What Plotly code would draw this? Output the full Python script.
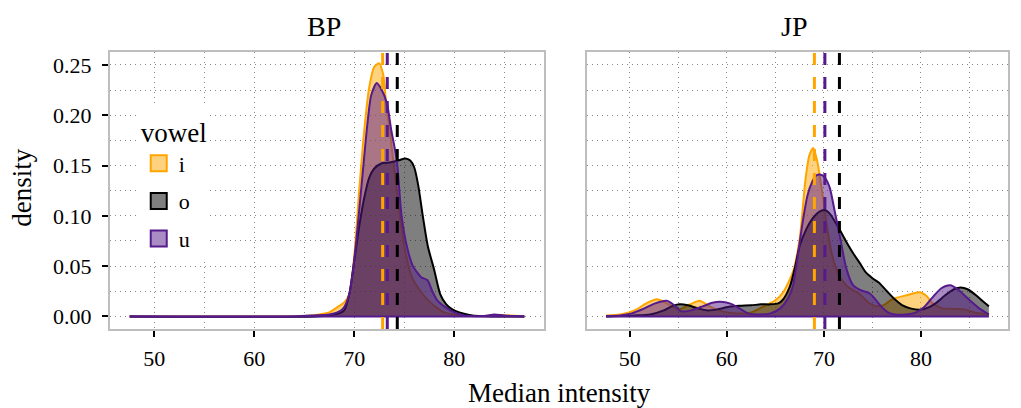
import plotly.graph_objects as go
from plotly.subplots import make_subplots

# ---------------- data ----------------
facets = ["BP", "JP"]
vowels = ["i", "o", "u"]
line_colors = {"i": "#FFA500", "o": "#000000", "u": "#551A8B"}
fill_colors = {"i": "rgba(255,165,0,0.5)", "o": "rgba(0,0,0,0.5)", "u": "rgba(85,26,139,0.5)"}

# BP densities
bp_i_x = [47.55, 62.0, 65.0, 66.5, 67.5, 68.5, 69.0, 69.5, 70.0, 70.5, 71.0, 71.5, 72.0, 72.5, 72.9,
          73.2, 73.6, 73.9, 74.5, 75.05, 75.8, 76.7, 77.3, 78.0, 79.0, 80.0, 82.0, 84.0, 85.5, 87.0]
bp_i_y = [0.0, 0.0, 0.0005, 0.002, 0.004, 0.0105, 0.014, 0.022, 0.060, 0.126, 0.185, 0.228, 0.248, 0.2515, 0.24,
          0.21, 0.18, 0.155, 0.105, 0.067, 0.038, 0.024, 0.017, 0.0105, 0.004, 0.002, 0.0005, 0.001, 0.001, 0.0]

bp_o_x = [47.55, 66.0, 67.5, 68.5, 69.0, 69.5, 70.0, 70.5, 71.0, 71.5, 72.0, 72.7, 73.5, 74.4, 75.1,
          75.6, 76.0, 76.4, 76.85, 77.35, 78.0, 78.6, 79.2, 79.8, 80.5, 81.5, 82.5, 84.0, 87.0]
bp_o_y = [0.0, 0.0, 0.001, 0.003, 0.006, 0.022, 0.055, 0.09, 0.118, 0.138, 0.147, 0.152, 0.153, 0.155, 0.157,
          0.155, 0.148, 0.13, 0.10, 0.07, 0.046, 0.022, 0.012, 0.007, 0.004, 0.0015, 0.0003, 0.0, 0.0]

bp_u_x = [47.55, 64.0, 66.0, 67.5, 68.3, 68.9, 69.5, 69.85, 70.2, 70.8, 71.3, 71.7, 72.25, 72.7, 73.26,
          73.7, 74.24, 74.73, 75.3, 75.87, 76.69, 77.33, 77.8, 78.3, 79.0, 80.0, 81.0, 83.0, 84.0, 85.0, 87.0]
bp_u_y = [0.0, 0.0, 0.001, 0.002, 0.004, 0.008, 0.022, 0.044, 0.075, 0.138, 0.19, 0.22, 0.232, 0.226, 0.212,
          0.185, 0.156, 0.10, 0.068, 0.05, 0.039, 0.036, 0.025, 0.016, 0.010, 0.004, 0.001, 0.0005, 0.002, 0.001, 0.0]

# JP densities
jp_i_x = [47.55, 49.0, 50.5, 51.7, 52.8, 53.8, 55.0, 56.2, 57.2, 58.2, 59.5, 61.0, 62.5, 63.9, 65.0,
          65.8, 66.8, 67.5, 68.1, 68.5, 68.9, 69.3, 69.8, 70.3, 70.8, 71.5, 72.4, 73.7, 74.7, 75.6,
          76.3, 77.0, 78.5, 79.9, 80.6, 81.2, 82.2, 83.5, 84.5, 85.5, 87.0]
jp_i_y = [0.001, 0.002, 0.006, 0.013, 0.017, 0.013, 0.007, 0.012, 0.0155, 0.010, 0.005, 0.003, 0.004, 0.0105, 0.016,
          0.024, 0.044, 0.077, 0.136, 0.16, 0.1675, 0.155, 0.125, 0.09, 0.063, 0.042, 0.030, 0.022, 0.013, 0.010,
          0.012, 0.017, 0.021, 0.024, 0.020, 0.013, 0.008, 0.0075, 0.007, 0.004, 0.002]

jp_o_x = [47.55, 49.0, 50.5, 52.1, 53.5, 54.3, 55.1, 56.0, 57.0, 58.0, 59.0, 60.2, 61.3, 62.5, 63.5,
          64.5, 65.3, 65.8, 66.5, 67.0, 67.5, 68.2, 68.8, 69.5, 70.1, 70.7, 71.4, 72.2, 73.0, 73.7,
          74.3, 75.0, 75.65, 76.5, 77.3, 78.1, 78.9, 79.9, 80.8, 81.5, 82.5, 83.4, 84.1, 84.8, 85.8,
          86.5, 87.0]
jp_o_y = [0.0, 0.0005, 0.001, 0.002, 0.006, 0.010, 0.012, 0.011, 0.008, 0.006, 0.007, 0.0095, 0.0105, 0.011, 0.012,
          0.012, 0.013, 0.017, 0.030, 0.048, 0.070, 0.087, 0.097, 0.104, 0.1057, 0.101, 0.090, 0.076, 0.063, 0.053,
          0.044, 0.038, 0.0337, 0.025, 0.017, 0.011, 0.008, 0.0066, 0.009, 0.013, 0.021, 0.027, 0.0287, 0.027, 0.020,
          0.014, 0.010]

jp_u_x = [47.55, 49.0, 50.2, 51.5, 52.6, 53.8, 54.6, 55.3, 56.3, 57.5, 58.5, 59.3, 60.3, 61.3, 62.2,
          63.2, 64.5, 65.5, 66.3, 66.8, 67.3, 67.8, 68.3, 68.8, 69.2, 69.6, 70.1, 70.6, 71.1, 71.7,
          72.3, 73.0, 73.8, 74.7, 75.3, 75.9, 76.6, 77.3, 78.5, 79.5, 80.3, 81.2, 82.1, 83.0, 83.8,
          84.8, 86.0, 87.0]
jp_u_y = [0.0005, 0.001, 0.003, 0.008, 0.013, 0.0155, 0.011, 0.005, 0.006, 0.010, 0.0135, 0.0145, 0.013, 0.008, 0.003,
          0.002, 0.003, 0.008, 0.018, 0.030, 0.060, 0.093, 0.120, 0.134, 0.140, 0.141, 0.138, 0.128, 0.105, 0.077,
          0.048, 0.031, 0.026, 0.023, 0.017, 0.010, 0.004, 0.002, 0.002, 0.004, 0.009, 0.019, 0.028, 0.031, 0.027,
          0.018, 0.008, 0.002]

# medians (dashed lines)
bp_medians = [72.84, 74.3, 73.3]   # i, o, u
jp_medians = [69.02, 71.6, 70.1]   # i, o, u

x_ticks = [50, 60, 70, 80]
y_ticks = [0.00, 0.05, 0.10, 0.15, 0.20, 0.25]
y_tick_labels = ["0.00", "0.05", "0.10", "0.15", "0.20", "0.25"]

data = {
    "BP": {"i": (bp_i_x, bp_i_y), "o": (bp_o_x, bp_o_y), "u": (bp_u_x, bp_u_y)},
    "JP": {"i": (jp_i_x, jp_i_y), "o": (jp_o_x, jp_o_y), "u": (jp_u_x, jp_u_y)},
}
medians = {"BP": bp_medians, "JP": jp_medians}

# ---------------- figure ----------------
FONT = "Liberation Serif"
fig = make_subplots(rows=1, cols=2, shared_yaxes=True, subplot_titles=facets,
                    horizontal_spacing=0.0478)

for c, facet in enumerate(facets, start=1):
    for v in vowels:
        xs, ys = data[facet][v]
        fig.add_trace(go.Scatter(x=xs, y=ys, mode="lines", fill="tozeroy",
                                 fillcolor=fill_colors[v],
                                 line=dict(color=line_colors[v], width=2, shape="spline", smoothing=0.7),
                                 showlegend=False, hoverinfo="skip"), row=1, col=c)
    # baseline of the density polygons
    all_x = [x for v in vowels for x in data[facet][v][0]]
    fig.add_trace(go.Scatter(x=[min(all_x), max(all_x)], y=[0, 0], mode="lines",
                             line=dict(color=line_colors["u"], width=2),
                             showlegend=False, hoverinfo="skip"), row=1, col=c)
    xref = "x" if c == 1 else "x2"
    for v, m in zip(vowels, medians[facet]):
        fig.add_shape(type="line", xref=xref, yref=("y domain" if c == 1 else "y2 domain"),
                      x0=m, x1=m, y0=0, y1=1,
                      line=dict(color=line_colors[v], width=3, dash="12px,12px"), layer="above")

# legend entries
for v in vowels:
    fig.add_trace(go.Scatter(x=[None], y=[None], mode="markers", name=v, legendgroup=v,
                             marker=dict(symbol="square", size=16, color=fill_colors[v],
                                         line=dict(color=line_colors[v], width=2))), row=1, col=1)

grid_col = "#8A8A8A"
grid_dash = "1px,4px"
axis_common = dict(showline=True, mirror=True, linecolor="#BEBEBE", linewidth=2,
                   showgrid=True, gridcolor=grid_col, gridwidth=1, griddash=grid_dash,
                   zeroline=False, ticks="outside", ticklen=6, tickwidth=2, tickcolor="black",
                   tickfont=dict(family=FONT, size=22, color="black"))

for i, xa in enumerate(["xaxis", "xaxis2"]):
    fig.layout[xa].update(range=[45.58, 88.97], tickvals=x_ticks, ticklabelstandoff=3,
                          minor=dict(dtick=5, tick0=0, showgrid=True, gridcolor=grid_col,
                                     griddash=grid_dash, gridwidth=1, ticks=""),
                          **axis_common)
fig.layout.xaxis.domain = [0.0, 0.4833]
fig.layout.xaxis2.domain = [0.5311, 1.0]

fig.layout.yaxis.update(range=[-0.0125, 0.2628], tickvals=y_ticks, ticktext=y_tick_labels,
                        ticklabelstandoff=6,
                        minor=dict(dtick=0.025, tick0=0, showgrid=True, gridcolor=grid_col,
                                   griddash=grid_dash, gridwidth=1, ticks=""),
                        **axis_common)
ax2 = dict(axis_common)
ax2.update(ticks="", showticklabels=False)
fig.layout.yaxis2.update(range=[-0.0125, 0.2628], tickvals=y_ticks,
                         minor=dict(dtick=0.025, tick0=0, showgrid=True, gridcolor=grid_col,
                                    griddash=grid_dash, gridwidth=1, ticks=""),
                         **ax2)

# facet titles
for ann in fig.layout.annotations:
    ann.font = dict(family=FONT, size=28, color="black")
    ann.yshift = 8

fig.add_annotation(text="Median intensity", xref="paper", yref="paper", x=0.5, y=-0.232,
                   xanchor="center", yanchor="middle", showarrow=False,
                   font=dict(family=FONT, size=27, color="black"))
fig.add_annotation(text="density", xref="paper", yref="paper", x=-0.098, y=0.51,
                   xanchor="center", yanchor="middle", textangle=-90, showarrow=False,
                   font=dict(family=FONT, size=27, color="black"))

# the page body has an 8px margin; size the figure so the plot lands where it should
fig.update_layout(
    width=1013, height=400,
    margin=dict(l=102, r=11, t=44, b=79),
    paper_bgcolor="white", plot_bgcolor="white",
    font=dict(family=FONT, color="black"),
    legend=dict(x=0.032, y=0.8, xanchor="left", yanchor="top", bgcolor="white",
                title=dict(text="vowel", font=dict(family=FONT, size=27, color="black")),
                font=dict(family=FONT, size=22, color="black"),
                traceorder="grouped", tracegroupgap=6, itemsizing="trace"),
    showlegend=True,
)

fig.write_html("out.html")
